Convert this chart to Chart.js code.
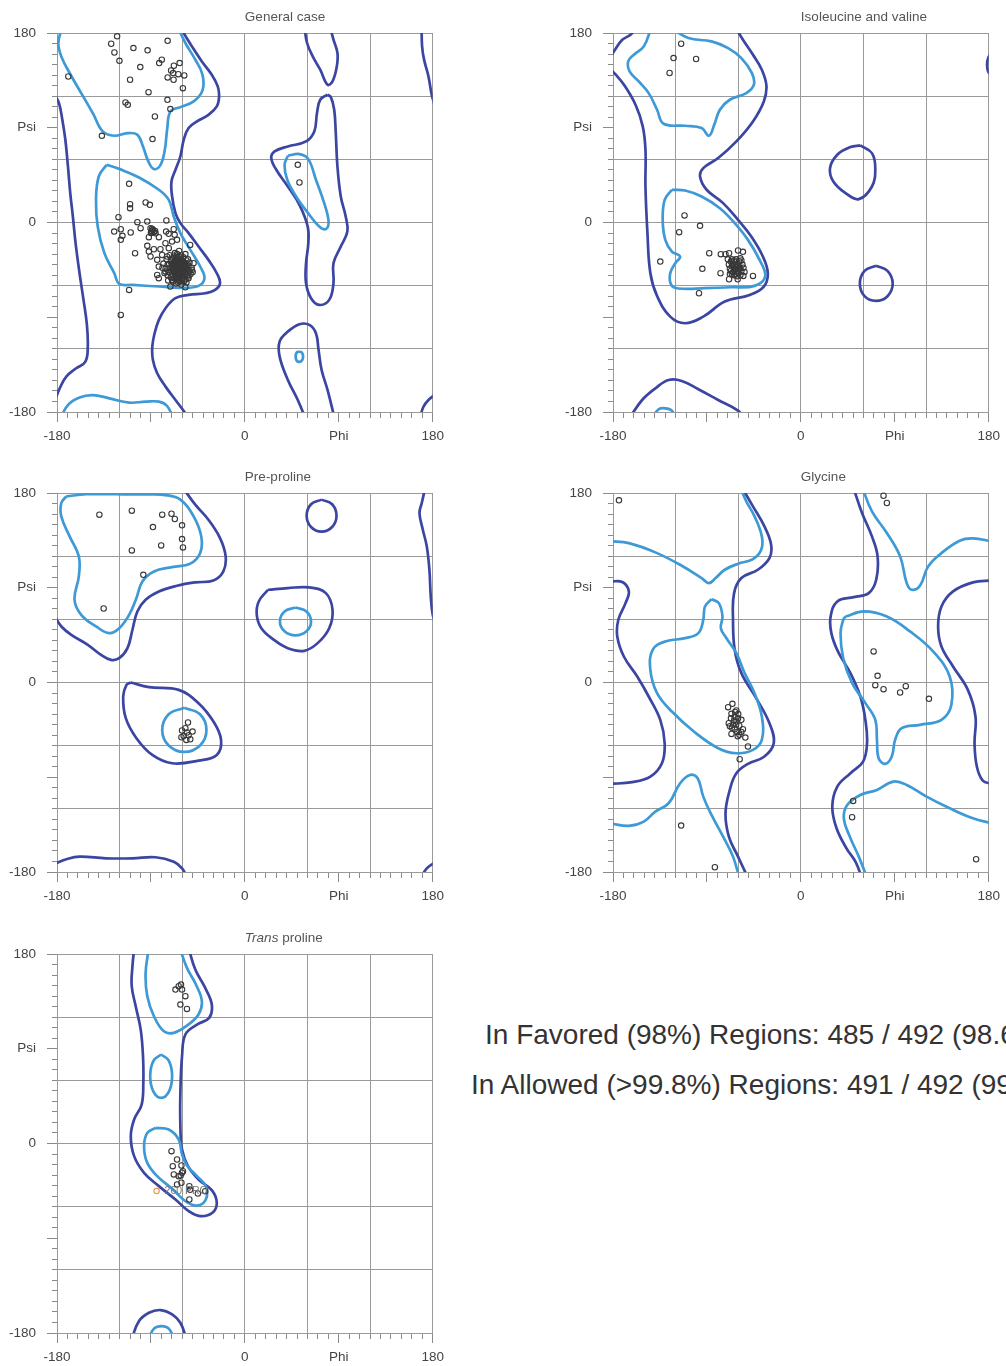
<!DOCTYPE html>
<html>
<head>
<meta charset="utf-8">
<script src="https://cdn.jsdelivr.net/npm/chart.js@4.4.1/dist/chart.umd.min.js"></script>
<style>
  html, body { margin: 0; padding: 0; background: #fff; }
  body { position: relative; width: 1006px; height: 1366px; overflow: hidden; }
  .panel { position: absolute; width: 450px; height: 450px; }
  .stat { position: absolute; font-family: "Liberation Sans", Arial, sans-serif; font-size: 28px;
          line-height: 30px; color: #333; white-space: nowrap; }
</style>
</head>
<body>
<div class="panel" style="left:0;top:0"><canvas id="c1" width="450" height="450"></canvas></div>
<div class="panel" style="left:556px;top:0"><canvas id="c2" width="450" height="450"></canvas></div>
<div class="panel" style="left:0;top:460px"><canvas id="c3" width="450" height="450"></canvas></div>
<div class="panel" style="left:556px;top:460px"><canvas id="c4" width="450" height="450"></canvas></div>
<div class="panel" style="left:0;top:921px"><canvas id="c5" width="450" height="450"></canvas></div>
<div class="stat" id="s1" style="left:485px;top:1020px"></div>
<div class="stat" id="s2" style="left:471px;top:1070px"></div>
<script>
// ---- axis labels, titles, summary ----
const phiTickLabels = { '-180': '-180', '0': '0', '90': 'Phi', '180': '180' };
const psiTickLabels = { '180': '180', '90': 'Psi', '0': '0', '-180': '-180' };
const panelTitles = [
  [{ text: 'General case' }],
  [{ text: 'Isoleucine and valine' }],
  [{ text: 'Pre-proline' }],
  [{ text: 'Glycine' }],
  [{ text: 'Trans', italic: true }, { text: ' proline' }]
];
const statLines = [
  'In Favored (98%) Regions: 485 / 492 (98.6%)',
  'In Allowed (>99.8%) Regions: 491 / 492 (99.8%)'
];

// ---- contour lines, [phi, psi] ----
const generalAllowed = [
  [[-62,187],[-58.6,180],[-50.7,167.3],[-41.2,153],[-31.7,140.4],[-26,129.3],[-24.7,119.8],[-26.9,110.3],[-34.9,102.3],[-45.9,96],[-53.9,89.7],[-58.6,78.6],[-61.8,62.7],[-66.5,50.1],[-70.3,39],[-69.7,24.7],[-66.5,8.9],[-61.8,-0.6],[-53.9,-10.1],[-44.4,-22.8],[-34.9,-35.5],[-26.9,-48.2],[-23.8,-57.7],[-28.5,-64],[-38,-67.2],[-53.9,-68.8],[-66.5,-71.9],[-76,-81.4],[-82.4,-92.5],[-86.5,-105.2],[-88.7,-117.9],[-88.1,-130.5],[-84,-143.2],[-76,-155.9],[-66.5,-168.6],[-57,-181.2],[-54,-187]],
  [[-183,123],[-178.1,113.4],[-174.9,97.6],[-172,78.6],[-169.5,53.2],[-167.3,27.9],[-164.8,5.7],[-162.2,-19.6],[-158.4,-48.2],[-154.6,-73.5],[-151.5,-95.7],[-150.5,-117.9],[-152.8,-132.2],[-161.6,-138.5],[-171.1,-146.4],[-177.4,-157.5],[-181.3,-167],[-183,-171]],
  [[169.3,186],[169.8,167.3],[171.7,154.7],[175.9,138.8],[179,121.4],[182,111]],
  [[167.5,-186],[171.1,-175],[175.9,-168.6],[183,-163]],
  [[57,186],[59.6,170.5],[65,157.8],[72.2,145.1],[79.2,130.9],[84,134.1],[88.1,148.3],[88.7,161],[84.9,173.7],[81.5,186]],
  [[79.2,121.4],[72.2,116.6],[69.1,103.9],[66.5,86.5],[58.6,77],[41.2,72.2],[28.5,67.5],[25.3,61.2],[30.1,50.1],[41.2,34.2],[52.3,16.8],[60.2,-3.8],[60.8,-19.6],[58.6,-38.7],[58.6,-57.7],[63.4,-71.9],[71.3,-78.3],[80.8,-73.5],[84.9,-57.7],[84.9,-38.7],[91.9,-22.8],[98.2,-8.6],[96.6,5.7],[91.9,24.7],[88.7,53.2],[87.1,84.9],[85.6,107.1],[82.4,119.1],[79.2,121.4]],
  [[58,-186],[50.7,-168.6],[41.2,-149.6],[33.3,-127.4],[33.3,-113.1],[41.2,-103.6],[52.3,-96.6],[61.8,-97.3],[68.1,-105.2],[70.6,-121],[73.5,-140],[79.2,-159],[86,-186]]
];
const generalFavored = [
  [[-175,186],[-178.7,170.5],[-175.9,157.8],[-167.9,142],[-156.8,122.9],[-145.7,103.9],[-136.2,86.5],[-125.1,82.4],[-112.5,84.9],[-103,83.3],[-97.6,72.2],[-92.5,58],[-87.1,50.7],[-80.8,54.8],[-76.7,69.1],[-74.5,88.1],[-71.3,105.5],[-61.8,109.6],[-49.1,115],[-40.6,125.5],[-40.6,140.4],[-47.5,154.7],[-57,170.5],[-64.5,186]],
  [[-132.4,54.8],[-119.8,50.7],[-101.4,42.8],[-82.4,31.1],[-72.9,21.5],[-68.1,5.7],[-61.8,-10.1],[-52.3,-26],[-42.8,-41.8],[-38.7,-52.9],[-44.4,-60.2],[-60.2,-62.1],[-82.4,-60.8],[-107.7,-59.3],[-120.4,-58.3],[-125.1,-48.2],[-134.6,-29.1],[-141,-3.8],[-142.6,21.5],[-140,43.7],[-132.4,54.8]],
  [[41.2,63.4],[52.3,65],[60.8,60.2],[68.1,40.6],[76,18.4],[80.2,1],[77.6,-6.3],[71.3,-3.8],[61.8,7.3],[49.1,24.7],[40.6,40.6],[38,54.8],[41.2,63.4]],
  [[52,-122.4],[54.6,-123.6],[55.8,-127.4],[54.6,-131.2],[52,-132.4],[49.6,-131.2],[48.6,-127.4],[49.6,-123.6],[52,-122.4]],
  [[-177,-187],[-169.6,-173.4],[-158.4,-166.2],[-145.7,-163.9],[-129.9,-167],[-110.9,-171.1],[-95.1,-170.2],[-82.4,-170.2],[-74.5,-174.3],[-68,-187]]
];

const ileValAllowed = [
  [[-63,186],[-55.5,173.6],[-45.9,159.4],[-37.4,145.1],[-33,129.9],[-35.5,115],[-45.9,96],[-61.8,77],[-79.2,61.2],[-93.5,51.6],[-96.6,43.7],[-90.3,31.1],[-74.5,18.4],[-60.2,2.5],[-47.5,-13.3],[-36.4,-32.3],[-31.7,-48.2],[-35.5,-60.8],[-49.1,-68.8],[-72.9,-75.1],[-93.5,-89.4],[-110.9,-95.7],[-125.2,-89.4],[-137.8,-69.7],[-144.2,-48.2],[-147,-10.1],[-148.9,34.2],[-148.9,69.1],[-151.5,91.3],[-158.4,111.8],[-169.5,130.9],[-177.4,140.4],[-183,146]],
  [[-183,156],[-178.1,164.1],[-171.1,173.6],[-163.2,178.4],[-157,186]],
  [[183,162],[179.4,156],[178.4,150],[179.4,143.5],[183,139.5]],
  [[-165,-187],[-152.1,-168.6],[-139.4,-157.5],[-126.7,-149.6],[-114.1,-150.5],[-98.2,-158.4],[-79.2,-168.6],[-60.2,-178.7],[-54,-187]],
  [[57,73.2],[68.1,65.9],[71.3,51.6],[68.1,34.2],[55.5,22.2],[42.8,27.9],[31.1,39],[27.9,51.6],[34.9,64.3],[47.5,71.6],[57,73.2]],
  [[72,-41],[83,-46],[88,-58],[83,-70],[72,-74.5],[61,-70],[56.5,-58],[61,-46],[72,-41]]
];
const ileValFavored = [
  [[-143,186],[-150.5,167.3],[-160,159.4],[-165.4,153],[-164.1,143.5],[-155.3,134],[-145.8,122.9],[-137.8,107.1],[-131.5,93.8],[-110.9,91.9],[-95.1,89.7],[-88.1,82.4],[-83,92.8],[-77.6,107.1],[-68.1,116.6],[-52.3,122.9],[-45,130.9],[-46.9,141.9],[-57,156.2],[-69.7,165.7],[-85.6,172.1],[-107.7,175.2],[-126,186]],
  [[-123.6,31.1],[-130.5,21.5],[-132.4,2.5],[-129.9,-16.5],[-123.6,-27.6],[-115.7,-32.3],[-120.4,-38.7],[-125.2,-48.2],[-124.2,-59.3],[-117.2,-62.7],[-91.9,-62.4],[-66.5,-61.5],[-44.4,-60.2],[-34.2,-51.3],[-39.6,-35.5],[-50.7,-16.5],[-63.4,-0.6],[-77.6,13.6],[-95.1,24.7],[-110.9,30.4],[-123.6,31.1]],
  [[-144,-187],[-136.2,-177.4],[-129.9,-176.5],[-123.6,-178.7],[-120,-187]]
];

const preProAllowed = [
  [[-60,186],[-47.5,168.9],[-34.9,154.6],[-23.8,137.2],[-18.4,119.8],[-20.6,105.5],[-30.1,96.9],[-47.5,95.1],[-65,91.9],[-82.4,86.5],[-95.1,78.6],[-103,67.5],[-107.7,50.1],[-112.5,32.6],[-120.4,23.1],[-128.3,21.5],[-137.8,26.3],[-150.5,35.8],[-166.3,45.3],[-175.8,53.2],[-183,64]],
  [[173,186],[169.5,170.5],[167.3,161],[170.5,145.1],[174.3,129.3],[176.8,107.1],[178.1,81.7],[180,64.3],[183,55]],
  [[-183,-172.5],[-171.1,-167.9],[-158.4,-165.4],[-133.1,-167],[-107.7,-167],[-85.6,-166],[-68.1,-170.2],[-60.2,-176.5],[-54.5,-187]],
  [[168,-187],[174.3,-176.5],[183,-170.5]],
  [[73.5,173.7],[83.6,169.3],[87.8,158.5],[83.6,147.7],[73.5,143.3],[63.4,147.7],[59.2,158.5],[63.4,169.3],[73.5,173.7]],
  [[22.2,88.1],[41.2,89.7],[61.8,90.3],[77.6,84.9],[84,69.1],[80.8,51.6],[69.7,37.4],[57,30.1],[41.2,32.6],[26.9,41.2],[15.8,51.6],[11.4,64.3],[13.3,77],[22.2,88.1]],
  [[-109.3,0],[-91.9,-4.4],[-63.4,-7],[-44.4,-19.6],[-30.1,-37.1],[-22.8,-54.5],[-26.9,-68.8],[-44.4,-74.2],[-69.7,-76.7],[-88.7,-68.8],[-103.9,-52.9],[-114.1,-33.9],[-116.6,-13.3],[-113.4,-2.2],[-109.3,0]]
];
const preProFavored = [
  [[-171.1,176.8],[-152.1,178.8],[-123.6,178.8],[-95,178.6],[-76,178],[-61.8,173.7],[-49.1,157.8],[-41.8,138.8],[-42.8,123],[-52.3,112.9],[-69.7,109.6],[-87.1,105.5],[-98.2,96],[-103.9,80.2],[-110.9,64.3],[-120.4,51.6],[-129.9,46.9],[-142.6,53.2],[-156.8,64.3],[-163.2,78.6],[-159.1,100.8],[-159.1,119.8],[-167.9,138.8],[-175.9,157.8],[-175.9,170.5],[-171.1,176.8]],
  [[48.5,71.3],[59,67.4],[63.4,58],[59,48.6],[48.5,44.7],[38,48.6],[33.6,58],[38,67.4],[48.5,71.3]],
  [[-58,-24.1],[-43,-30.2],[-36.8,-45],[-43,-59.8],[-58,-65.9],[-73,-59.8],[-79.2,-45],[-73,-30.2],[-58,-24.1]]
];

const glyAllowed = [
  [[-183,96],[-171.1,95.4],[-164.8,86.5],[-168,75.4],[-174.9,59.6],[-175.9,43.7],[-169.6,24.7],[-156.8,5.7],[-145.8,-13.3],[-134.7,-35.5],[-130.5,-57.7],[-133.1,-76.7],[-144.2,-89.4],[-161.6,-94.7],[-183,-96.3]],
  [[183,97],[164.8,95.1],[145.8,86.5],[134.7,72.2],[131.5,53.2],[134.7,34.2],[145.8,15.2],[160,-7],[167.3,-32.3],[166.4,-57.7],[168.6,-79.8],[174.3,-93.2],[183,-96.3]],
  [[-57,186],[-45.9,167.3],[-34.9,148.3],[-28.5,130.9],[-30.1,118.2],[-41.2,107.1],[-57,99.2],[-64,84.9],[-65,59.6],[-63.4,31.1],[-57,8.9],[-42.8,-14.9],[-30.1,-38.7],[-26,-57.7],[-34.9,-70.3],[-50.7,-77.3],[-61.8,-86.2],[-68.1,-102],[-72.2,-124.2],[-69,-146.4],[-60.2,-165.4],[-50,-187]],
  [[50,186],[58.6,161],[68.1,138.8],[73.5,119.8],[72.2,97.6],[65,84.9],[50.7,81.1],[34.9,77],[28.5,62.7],[29.2,46.9],[35.5,29.5],[47.5,8.9],[57,-13.3],[61.8,-35.5],[63.4,-57.7],[59.6,-75.1],[47.5,-86.2],[34.9,-98.9],[30.1,-117.9],[34.2,-138.5],[43.7,-157.5],[52.3,-170.2],[59,-187]]
];
const glyFavored = [
  [[-183,134.3],[-164.8,132.4],[-139.4,123.6],[-114.1,110.9],[-95.1,99.2],[-88.1,94.4],[-81.7,99.2],[-72.9,107.1],[-60.2,112.8],[-45.9,117.2],[-38,126.1],[-37.4,138.8],[-44.4,157.8],[-52.3,172.1],[-58.5,186]],
  [[58.5,186],[68.1,162.5],[82.4,142],[95.1,119.8],[101.4,94.4],[106.1,88.1],[114.1,91.9],[122,110.3],[134.7,122.9],[152.1,134.7],[164.8,136.9],[183,134]],
  [[-85.6,79.2],[-78.6,75.4],[-75.1,62.7],[-76.7,51.6],[-71.3,42.1],[-61.8,27.9],[-53.9,8.9],[-44.4,-10.1],[-37.4,-32.3],[-37.4,-54.5],[-45.9,-64],[-61.8,-67.2],[-79.2,-62.4],[-101.4,-47.5],[-123.6,-27.6],[-137.8,-10.1],[-144.2,12],[-142,31.1],[-129.9,39],[-110.9,42.1],[-98.2,46.9],[-93.5,59.6],[-91.9,72.2],[-85.6,79.2]],
  [[42.8,62.7],[60.2,67.5],[82.4,62.7],[104.6,48.5],[126.7,29.5],[142.6,5.7],[144.2,-21.2],[134.7,-35.5],[114.1,-40.2],[96.6,-43.4],[90.3,-54.5],[87.1,-70.3],[80.8,-77.3],[74.5,-71.9],[72.9,-54.5],[71.3,-35.5],[61.8,-19.6],[49.1,-0.6],[40.6,23.1],[38,46.9],[40.6,59.6],[42.8,62.7]],
  [[-183,-133.7],[-164.8,-136.2],[-150.5,-132.1],[-139.4,-122.6],[-126.7,-114.7],[-115.7,-95.7],[-106.2,-87.8],[-98.9,-90.9],[-93.5,-108.4],[-85.6,-125.8],[-74.5,-146.4],[-65,-165.4],[-58.5,-187]],
  [[64,-187],[55.5,-165.4],[46.9,-146.4],[41.2,-129],[44.4,-116.3],[57,-106.8],[72.9,-102],[88.7,-94.1],[101.4,-97.3],[120.4,-108.4],[142.6,-119.5],[164.8,-129],[183,-133.7]]
];

const transProAllowed = [
  [[-106,186],[-107.7,168.4],[-108.4,149.4],[-104.6,130.4],[-99.8,108.2],[-97.6,82.9],[-97.3,57.6],[-98.9,37],[-106.1,22.8],[-109.3,7],[-106.1,-12],[-96.6,-27.8],[-82.4,-40.5],[-66.5,-53.2],[-53.9,-64.2],[-42.8,-69],[-31.1,-65.8],[-26.9,-56.3],[-31.7,-44.3],[-44.4,-34.2],[-54.5,-21.5],[-60.2,-5.7],[-61.8,16.5],[-61.8,48.1],[-60.2,82.9],[-57,103.5],[-45.9,113],[-34.2,119.3],[-31.7,132],[-38,147.8],[-47.5,165.2],[-54,186]],
  [[-109,-187],[-101.4,-168.7],[-91.9,-160.8],[-80.8,-158.2],[-69.7,-162.3],[-61.8,-170.3],[-55.5,-187]]
];
const transProFavored = [
  [[-92,186],[-95.1,162],[-93.5,139.9],[-87.1,120.9],[-77.6,106.6],[-68.1,105.1],[-55.5,112],[-44.4,122.5],[-41.2,135.1],[-46.9,151],[-55.5,166.8],[-62.5,186]],
  [[-80.2,84.5],[-72.8,78.5],[-69.7,63.9],[-72.8,49.3],[-80.2,43.3],[-87.6,49.3],[-90.7,63.9],[-87.6,78.5],[-80.2,84.5]],
  [[-85.6,14.9],[-93.5,10.1],[-96.6,-2.5],[-93.5,-18.4],[-84,-31],[-69.7,-43],[-57,-54.7],[-45.9,-58.9],[-37.4,-53.2],[-37.4,-40.5],[-45.9,-31],[-55.5,-20.9],[-60.2,-10.4],[-63.4,3.8],[-72.9,13.3],[-85.6,14.9]],
  [[-93,-187],[-87.1,-175.9],[-79.8,-173.4],[-72.9,-175.9],[-67,-187]]
];

// ---- residues, [phi, psi] ----
const generalPoints = [
  [-122.4,176.8],[-128.1,169.8],[-125,161.5],[-120.2,153.6],[-106.8,165.7],[-93.2,163.5],[-74,172.6],[-79.6,154.6],[-82.1,151.4],[-100.2,147.6],[-110,135.6],[-68,148.9],[-62.5,151.4],[-70.7,144.4],[-68.8,141.9],[-63.8,140.9],[-58.1,139.7],[-74,137.8],[-68.3,135.6],[-59.4,127.6],[-92.3,123.8],[-74.2,116.5],[-71.4,107.7],[-114.4,114],[-112.2,111.8],[-86.2,100.7],[-88.5,79.2],[-137,82.3],[-169.2,138.7],
  [50.7,54.8],[52.3,38],
  [-110.9,36.7],[-110,17.4],[-110,13.6],[-95.1,19],[-91,16.8],[-121.1,5.1],[-103,0.3],[-93.5,0.9],[-75.2,1.9],[-99.9,-5.4],[-118.9,-6.4],[-125.2,-8.6],[-109.4,-9.5],[-117.3,-12.7],[-118.9,-16.5],[-90.4,-5.4],[-88.8,-8.6],[-85.6,-10.2],[-92,-13.9],[-82.4,-13.9],[-75.5,-8.6],[-73,-10.8],[-68.2,-6.4],[-67.3,-11.7],[-65,-16.5],[-69.8,-18.1],[-76.1,-19.7],[-93.5,-22.2],[-87.2,-25.4],[-80.9,-25.4],[-72.9,-24.4],[-52.4,-21.3],[-105.2,-29.2],[-92,-27.6],[-90.4,-32.3],[-84,-35.5],[-79.3,-30.8],[-74.6,-32.3],[-82.5,-41.9],[-76.1,-46.6],[-84,-49.8],[-82.5,-52.9],[-71.4,-60.9],[-57.1,-61.5],[-62.8,-56.1],[-110.9,-64],[-118.9,-87.8],[-69.8,-54.5],[-50.8,-45],[-49.2,-38.7],[-54,-51.4],
  [-89,-6],[-87,-9],[-90,-10],[-88,-7],[-86,-8],[-89.5,-8.5],
  [-64,-41],[-62,-43],[-66,-40],[-60,-44],[-63,-38],[-65,-45],[-61,-39],[-67,-42],[-59,-41],[-64,-47],[-62,-36],[-68,-38],[-58,-45],[-66,-48],[-63,-44],[-60,-37],[-65,-35],[-61,-47],[-69,-44],[-57,-40],[-64,-50],[-62,-33],[-70,-40],[-56,-43],[-67,-36],[-59,-48],[-65,-52],[-61,-42],[-63,-46],[-66,-43],[-60,-50],[-58,-38],[-68,-46],[-64,-39],[-62,-40],[-57,-47],[-71,-37],[-55,-44],[-66,-33],[-60,-53],[-63,-55],[-67,-50],[-58,-51],[-72,-43],[-54,-41],[-65,-30],[-61,-31],[-69,-34],[-56,-36],[-73,-47],[-53,-46],[-64,-57],[-60,-56],[-68,-53],[-57,-54],[-70,-49],[-62,-48],[-65,-42],[-63,-41],[-61,-45],[-64,-44],[-66,-39],[-59,-43],[-62,-38],[-67,-47],[-60,-40],[-58,-42],[-63,-49],[-65,-37],[-61,-35],[-74,-40],[-52,-49],[-76,-44],[-55,-50],[-71,-52],[-59,-33],[-67,-29],[-72,-31],[-63,-27],[-57,-30],[-75,-35],[-53,-38],[-69,-56],[-61,-59],[-66,-58],[-56,-57],[-78,-39],[-51,-43],[-74,-50],[-54,-53],
  [-62.5,-41.5],[-64.5,-43.5],[-60.5,-42.5],[-65.5,-46.5],[-59.5,-46],[-63.5,-36.5],[-67.5,-44.5],[-58.5,-39.5],[-66.5,-37.5],[-61.5,-49.5],[-64.2,-52.5],[-69.5,-41.5],[-56.5,-48.5],[-62.8,-45],[-60.8,-38],[-70.5,-45.5],[-58,-55.5],[-66,-54],[-72.5,-39.5],[-55.5,-40.5],[-68,-31.5],[-77,-48],[-73.5,-55],[-79,-43],[-50,-47],[-54.5,-35]
];
const ileValPoints = [
  [-114.7,169.8],[-122,156.2],[-100.4,155.3],[-125.8,142],[-111.5,6.7],[-96.6,-3.2],[-116.6,-9.2],[-134.7,-37.1],[-87.8,-29.2],[-76.7,-30.1],[-72.2,-30.1],[-68.8,-29.2],[-60.2,-26.6],[-55.5,-27.9],[-94.4,-44],[-77,-48.2],[-68.8,-53.9],[-60.5,-53.9],[-55.1,-50.7],[-45.9,-50.7],[-97.6,-67.2],
  [-62,-42],[-60,-40],[-64,-44],[-58,-43],[-66,-41],[-63,-38],[-61,-46],[-65,-47],[-59,-37],[-67,-37],[-57,-46],[-62,-49],[-68,-44],[-56,-40],[-64,-36],[-60,-48],[-66,-49],[-58,-50],[-63,-45],[-61,-41],[-65,-40],[-59,-44],[-62,-35],[-69,-40],[-55,-43],[-67,-46],[-57,-36],[-64,-50],[-60,-44],[-63,-42],[-70,-35],[-54,-47],[-66,-35],[-58,-34],[-61,-51],[-68,-49]
];
const preProPoints = [
  [-139.4,159.4],[-108.3,163.2],[-79.2,159.4],[-70.3,160.3],[-67.1,155.3],[-60.2,149.3],[-88.1,147.6],[-60.2,136.2],[-80.2,130.2],[-59.3,128.3],[-108.3,125.5],[-97.3,102.3],[-135.3,70.3],
  [-54.5,-38],[-57,-43.4],[-60.2,-45.6],[-50.1,-46.6],[-58.6,-50.7],[-53.9,-50.1],[-60.8,-52],[-52.3,-53.9],[-56.1,-54.5],[-55.5,-47.5]
];
const glyPoints = [
  [-174.3,173],[79.2,177.4],[82.4,170.5],[69.7,29.5],[73.5,6.3],[71.3,-2.5],[79.2,-6.3],[95.1,-9.5],[100.5,-3.5],[122.7,-15.5],[50.1,-112.5],[49.1,-128],[-114.7,-135.9],[-82.4,-175.5],[167.9,-167.9],[-58.6,-72.9],[-50.7,-60.8],
  [-65.6,-20.3],[-69.7,-23.4],[-61.8,-26.6],[-66.5,-29.8],[-60.2,-33.9],[-69.1,-38.7],[-65,-40.2],[-61.8,-37.1],[-57,-35.5],[-63.4,-44.4],[-55.5,-44.4],[-66.5,-48.8],[-58.9,-49.7],[-53.2,-52.3],
  [-63,-28],[-60,-30],[-67,-34],[-64,-36],[-62,-40],[-59,-41],[-66,-43],[-61,-47],[-57,-47],[-63.5,-32.5],[-68,-41.5],[-60.5,-51]
];
const transProPoints = [
  [-66.5,146.2],[-63.4,149.4],[-61.2,151],[-60.2,146.2],[-57,139.9],[-61.8,132],[-55.5,127.8],
  [-70.3,-7.3],[-65,-15.2],[-69.1,-21.5],[-60.8,-20.9],[-68.1,-29.4],[-63.4,-31],[-60.2,-27.8],[-59.3,-26.3],[-60.8,-37.3],[-65,-38.9],[-53.2,-40.5],[-45,-47.5],[-38,-45.3],[-53.2,-53.2],[-52.5,-44],[-61.5,-30.5]
];
const transProOutlier = [[-84.6,-45.2]];
const transProOutlierLabel = '260 PRO';

// ---- styling ----
const FONT = '"Liberation Sans", Arial, sans-serif';
const allowedColor = '#3b45a2';
const favoredColor = '#3d9ad6';
const gridColor = '#9a9a9a';

const toXY = pts => pts.map(([x, y]) => ({ x, y }));

function lineSets(lines, color) {
  return lines.map(pts => ({
    data: toXY(pts),
    showLine: true,
    borderColor: color,
    borderWidth: 2.7,
    pointRadius: 0,
    tension: 0.4,
    fill: false,
    clip: 0
  }));
}

function pointSet(pts, color) {
  return {
    data: toXY(pts),
    showLine: false,
    pointRadius: 2.7,
    pointBorderWidth: 1.1,
    pointBorderColor: color,
    pointBackgroundColor: 'rgba(0,0,0,0)',
    clip: 4
  };
}

const panelTitle = {
  id: 'panelTitle',
  afterDraw(chart, args, opts) {
    if (!opts || !opts.parts) return;
    const { ctx, chartArea, scales } = chart;
    let x = scales.x.getPixelForValue(0);
    const y = chartArea.top - 16;
    ctx.save();
    ctx.fillStyle = '#555';
    ctx.textBaseline = 'middle';
    ctx.textAlign = 'left';
    for (const part of opts.parts) {
      ctx.font = (part.italic ? 'italic ' : '') + '13.5px ' + FONT;
      ctx.fillText(part.text, x, y);
      x += ctx.measureText(part.text).width;
    }
    ctx.restore();
  }
};

const outlierTag = {
  id: 'outlierTag',
  afterDatasetsDraw(chart, args, opts) {
    if (!opts || !opts.text) return;
    const el = chart.getDatasetMeta(opts.datasetIndex).data[0];
    if (!el) return;
    const ctx = chart.ctx;
    ctx.save();
    ctx.font = '10.5px ' + FONT;
    ctx.fillStyle = '#777';
    ctx.textBaseline = 'middle';
    ctx.textAlign = 'left';
    ctx.fillText(opts.text, el.x + 8, el.y);
    ctx.restore();
  }
};

function axis(labels, horizontal) {
  return {
    type: 'linear',
    min: -180,
    max: 180,
    position: horizontal ? 'bottom' : 'left',
    afterFit(scale) {
      if (horizontal) scale.height = 38; else scale.width = 57;
    },
    border: { color: gridColor, width: 1 },
    grid: {
      color: c => (c.tick && c.tick.value % 60 === 0) ? gridColor : 'rgba(0,0,0,0)',
      lineWidth: 1,
      tickColor: '#8a8a8a',
      tickLength: 10,
      tickBorderDash: c => (c.tick && c.tick.value % 90 === 0) ? [] : (horizontal ? [5, 20] : [5, 5]),
      tickBorderDashOffset: c => (c.tick && c.tick.value % 90 === 0) ? 0 : (horizontal ? 0 : 5)
    },
    ticks: {
      stepSize: 10,
      autoSkip: false,
      maxRotation: 0,
      minRotation: 0,
      padding: horizontal ? 6 : 11,
      color: '#444',
      font: { family: FONT, size: 13.5 },
      callback: v => labels[String(v)] || ''
    }
  };
}

function makePanel(canvasId, titleParts, allowed, favored, points, extra) {
  const datasets = [pointSet(points, '#383838')];
  let tag = false;
  if (extra) {
    datasets.push(pointSet(extra.points, '#e39a4c'));
    tag = { text: extra.label, datasetIndex: 1 };
  }
  datasets.push(...lineSets(favored, favoredColor));
  datasets.push(...lineSets(allowed, allowedColor));
  return new Chart(document.getElementById(canvasId), {
    type: 'scatter',
    data: { datasets },
    options: {
      responsive: false,
      animation: false,
      events: [],
      layout: { padding: { top: 33, right: 14, bottom: 0, left: 0 } },
      elements: { line: { capBezierPoints: false } },
      plugins: {
        legend: { display: false },
        title: { display: false },
        tooltip: { enabled: false },
        panelTitle: { parts: titleParts },
        outlierTag: tag
      },
      scales: {
        x: axis(phiTickLabels, true),
        y: axis(psiTickLabels, false)
      }
    },
    plugins: [panelTitle, outlierTag]
  });
}

makePanel('c1', panelTitles[0], generalAllowed, generalFavored, generalPoints);
makePanel('c2', panelTitles[1], ileValAllowed, ileValFavored, ileValPoints);
makePanel('c3', panelTitles[2], preProAllowed, preProFavored, preProPoints);
makePanel('c4', panelTitles[3], glyAllowed, glyFavored, glyPoints);
makePanel('c5', panelTitles[4], transProAllowed, transProFavored, transProPoints,
  { points: transProOutlier, label: transProOutlierLabel });

document.getElementById('s1').textContent = statLines[0];
document.getElementById('s2').textContent = statLines[1];
</script>
</body>
</html>
